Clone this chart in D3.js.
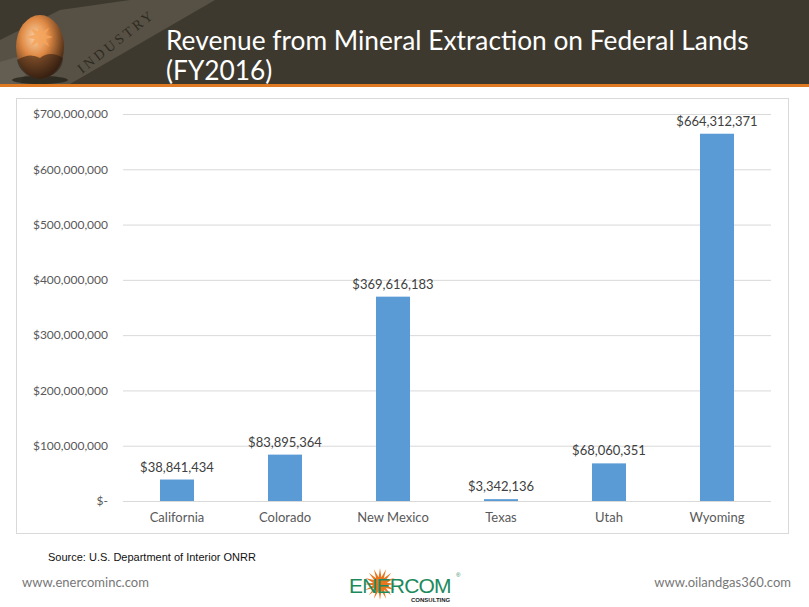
<!DOCTYPE html>
<html>
<head>
<meta charset="utf-8">
<script src="https://cdn.jsdelivr.net/npm/d3@7"></script>
<style>
  body { margin: 0; background: #fff; }
  svg { display: block; }
</style>
</head>
<body>
<script>
// chart data
var states = ["California", "Colorado", "New Mexico", "Texas", "Utah", "Wyoming"];
var revenue = [38841434, 83895364, 369616183, 3342136, 68060351, 664312371];
var yTicks = [0, 100000000, 200000000, 300000000, 400000000, 500000000, 600000000, 700000000];
var titleLines = ["Revenue from Mineral Extraction on Federal Lands", "(FY2016)"];

var W = 809, H = 607;
var svg = d3.select("body").append("svg").attr("width", W).attr("height", H);

// header band
var defs = svg.append("defs");
var ball = defs.append("radialGradient").attr("id", "ball")
  .attr("cx", "40%").attr("cy", "35%").attr("r", "65%");
ball.append("stop").attr("offset", "0%").attr("stop-color", "#fbd3a8");
ball.append("stop").attr("offset", "45%").attr("stop-color", "#e08a45");
ball.append("stop").attr("offset", "100%").attr("stop-color", "#4a2a14");

svg.append("rect").attr("width", W).attr("height", 84).attr("fill", "#3e392e");
svg.append("path")
  .attr("d", "M0,40 L60,10 L130,0 L215,0 L70,84 L0,84 Z")
  .attr("fill", "#5c574a").attr("opacity", 0.8);
svg.append("path")
  .attr("d", "M0,62 L40,50 L20,84 L0,84 Z")
  .attr("fill", "#6d675a").attr("opacity", 0.6);
svg.append("text").attr("transform", "translate(82,74) rotate(-38)")
  .attr("font-family", "Liberation Serif").attr("font-size", 14)
  .attr("letter-spacing", 3).attr("fill", "#2e2a22").text("INDUSTRY");
svg.append("ellipse").attr("cx", 40).attr("cy", 80).attr("rx", 28).attr("ry", 4)
  .attr("fill", "#1e1b15").attr("opacity", 0.7);
svg.append("ellipse").attr("cx", 40).attr("cy", 47).attr("rx", 24).attr("ry", 32)
  .attr("fill", "url(#ball)");
// little sunburst on the ball
var burst = d3.range(16).map(function(i) {
  var a = i * Math.PI / 8, r = i % 2 ? 6 : 13;
  return [40 + r * Math.cos(a), 37 + r * Math.sin(a)];
});
svg.append("polygon").attr("points", burst.map(function(p) { return p.join(","); }).join(" "))
  .attr("fill", "#f5a35a").attr("opacity", 0.85);
svg.append("path").attr("d", "M17,60 Q30,52 40,58 Q50,50 63,58 Q62,75 40,79 Q20,76 17,60 Z")
  .attr("fill", "#2a1a10").attr("opacity", 0.55);

svg.append("rect").attr("y", 84).attr("width", W).attr("height", 3).attr("fill", "#e07a22");

svg.selectAll("text.title").data(titleLines).enter().append("text")
  .attr("class", "title")
  .attr("x", 166).attr("y", function(d, i) { return 50 + i * 30; })
  .attr("font-family", "Lato, 'Open Sans', sans-serif").attr("font-size", 26.3)
  .attr("fill", "#ffffff").text(function(d) { return d; });

// chart frame
svg.append("rect").attr("x", 16.5).attr("y", 98.5).attr("width", 772).attr("height", 435)
  .attr("fill", "#fff").attr("stroke", "#d9d9d9").attr("stroke-width", 1);

var plotLeft = 123, plotRight = 771, plotTop = 114, plotBottom = 501;

var x = d3.scaleBand().domain(states).range([plotLeft, plotRight])
  .paddingInner(0.685).paddingOuter(0.3425);
var y = d3.scaleLinear().domain([0, 700000000]).range([plotBottom, plotTop]);

var fmt = d3.format("$,");

// gridlines + y labels
var yAxis = d3.axisLeft(y).tickValues(yTicks).tickSize(-(plotRight - plotLeft)).tickPadding(15)
  .tickFormat(function(d) { return d === 0 ? "$-" : fmt(d); });
var gy = svg.append("g").attr("transform", "translate(" + plotLeft + ",0)").call(yAxis);
gy.select(".domain").remove();
gy.selectAll(".tick line").attr("stroke", "#d9d9d9");
gy.selectAll(".tick text").attr("fill", "#595959")
  .attr("font-family", "Lato, 'Open Sans', sans-serif").attr("font-size", 12);

// bars
svg.selectAll("rect.bar").data(states).enter().append("rect")
  .attr("class", "bar")
  .attr("x", function(d) { return x(d); })
  .attr("width", x.bandwidth())
  .attr("y", function(d, i) { return y(revenue[i]); })
  .attr("height", function(d, i) { return plotBottom - y(revenue[i]); })
  .attr("fill", "#5b9bd5");

// value labels
svg.selectAll("text.val").data(states).enter().append("text")
  .attr("class", "val")
  .attr("x", function(d) { return x(d) + x.bandwidth() / 2; })
  .attr("y", function(d, i) { return y(revenue[i]) - 8; })
  .attr("text-anchor", "middle")
  .attr("font-family", "Lato, 'Open Sans', sans-serif").attr("font-size", 13)
  .attr("fill", "#404040")
  .text(function(d, i) { return fmt(revenue[i]); });

// x labels
var xAxis = d3.axisBottom(x).tickSize(0).tickPadding(12);
var gx = svg.append("g").attr("transform", "translate(0," + plotBottom + ")").call(xAxis);
gx.select(".domain").remove();
gx.selectAll(".tick text").attr("fill", "#595959")
  .attr("font-family", "Lato, 'Open Sans', sans-serif").attr("font-size", 13);

// footer
svg.append("text").attr("x", 48).attr("y", 561)
  .attr("font-family", "Liberation Sans, Arial").attr("font-size", 11).attr("fill", "#111")
  .text("Source: U.S. Department of Interior ONRR");
svg.append("text").attr("x", 22).attr("y", 587)
  .attr("font-family", "Lato, sans-serif").attr("font-size", 13).attr("fill", "#777")
  .text("www.enercominc.com");
svg.append("text").attr("x", 791).attr("y", 587).attr("text-anchor", "end")
  .attr("font-family", "Lato, sans-serif").attr("font-size", 13).attr("fill", "#777")
  .text("www.oilandgas360.com");

// enercom logo
var star = d3.range(32).map(function(i) {
  var a = i * Math.PI / 16, r = i % 2 ? 7 : 16;
  return [380 + r * Math.cos(a), 584 + r * Math.sin(a)];
});
svg.append("polygon").attr("points", star.map(function(p) { return p.join(","); }).join(" "))
  .attr("fill", "#e8761e");
svg.append("text").attr("x", 349).attr("y", 593)
  .attr("font-family", "Liberation Sans, Arial").attr("font-size", 21).attr("fill", "#1c8a5c")
  .attr("letter-spacing", -0.8).text("ENERCOM");
svg.append("text").attr("x", 456).attr("y", 577)
  .attr("font-family", "Liberation Sans, Arial").attr("font-size", 6).attr("fill", "#1c8a5c").text("®");
svg.append("text").attr("x", 411).attr("y", 602)
  .attr("font-family", "Liberation Sans, Arial").attr("font-size", 6).attr("font-weight", "bold")
  .attr("fill", "#222").text("CONSULTING");
</script>
</body>
</html>
